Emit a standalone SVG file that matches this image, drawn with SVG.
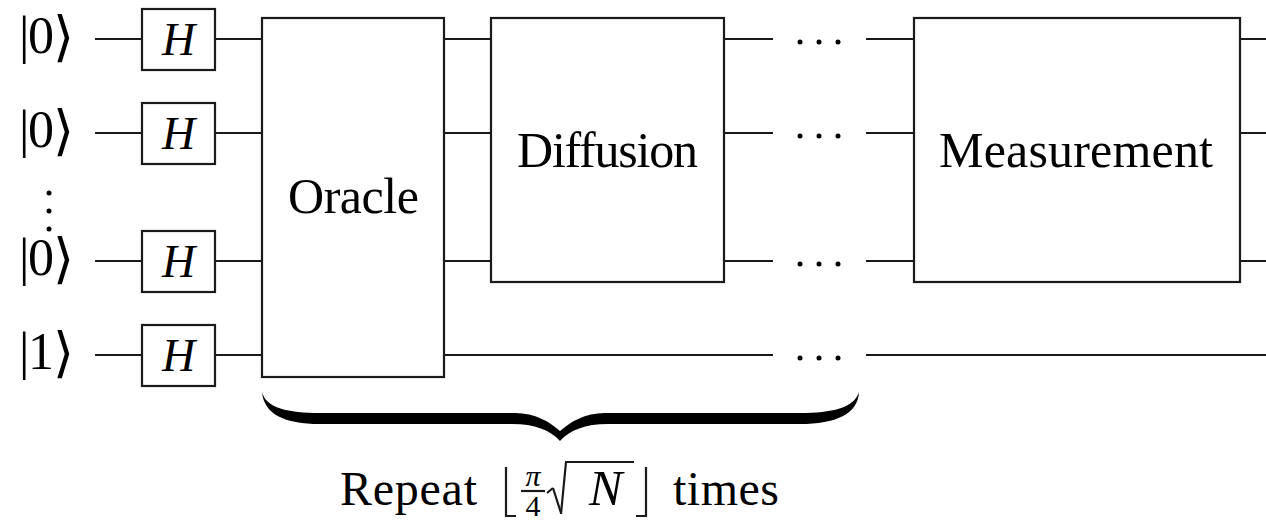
<svg xmlns="http://www.w3.org/2000/svg" width="1266" height="523" viewBox="0 0 1266 523">
<style>
.w{stroke:#1a1a1a;stroke-width:2.2;fill:none}
.b{stroke:#1a1a1a;stroke-width:2.2;fill:#fff}
.t{font-family:"Liberation Serif","DejaVu Serif",serif;fill:#000}
.i{font-style:italic}
.k{font-family:"Liberation Serif","DejaVu Serif",serif;fill:#000;font-size:52px}
.a{font-family:"DejaVu Sans","Liberation Serif",sans-serif;font-size:54px}
.d{fill:#000}
</style>
<rect width="1266" height="523" fill="#fff"/>
<g id="connectors">
<path class="w" d="M95 39H142M95 133H142M95 261H142M95 355H142"/>
<path class="w" d="M215 39H262M215 133H262M215 261H262M215 355H262"/>
<path class="w" d="M444 39H491M444 133H491M444 261H491M444 355H773"/>
<path class="w" d="M724 39H773M724 133H773M724 261H773"/>
<path class="w" d="M866 39H914M866 133H914M866 261H914M866 355H1266"/>
<path class="w" d="M1240 39H1266M1240 133H1266M1240 261H1266"/>
</g>
<g id="dots">
<circle class="d" cx="49" cy="193" r="2.5"/><circle class="d" cx="49" cy="211" r="2.5"/><circle class="d" cx="49" cy="229" r="2.5"/>
<circle class="d" cx="800" cy="42" r="2.5"/><circle class="d" cx="819" cy="42" r="2.5"/><circle class="d" cx="838" cy="42" r="2.5"/>
<circle class="d" cx="800" cy="136" r="2.5"/><circle class="d" cx="819" cy="136" r="2.5"/><circle class="d" cx="838" cy="136" r="2.5"/>
<circle class="d" cx="800" cy="264" r="2.5"/><circle class="d" cx="819" cy="264" r="2.5"/><circle class="d" cx="838" cy="264" r="2.5"/>
<circle class="d" cx="800" cy="358" r="2.5"/><circle class="d" cx="819" cy="358" r="2.5"/><circle class="d" cx="838" cy="358" r="2.5"/>
</g>
<g id="ket0a"><text class="k" x="19" y="53">|<tspan x="28">0</tspan><tspan class="a" x="53" y="55">⟩</tspan></text></g>
<g id="ket0b"><text class="k" x="19" y="147">|<tspan x="28">0</tspan><tspan class="a" x="53" y="149">⟩</tspan></text></g>
<g id="ket0c"><text class="k" x="19" y="275">|<tspan x="28">0</tspan><tspan class="a" x="53" y="277">⟩</tspan></text></g>
<g id="ket1"><text class="k" x="19" y="369">|<tspan x="28">1</tspan><tspan class="a" x="53" y="371">⟩</tspan></text></g>
<g id="h1"><rect class="b" x="142" y="9" width="73" height="61"/><text class="t i" x="178.5" y="55" font-size="46" text-anchor="middle">H</text></g>
<g id="h2"><rect class="b" x="142" y="103" width="73" height="61"/><text class="t i" x="178.5" y="149" font-size="46" text-anchor="middle">H</text></g>
<g id="h3"><rect class="b" x="142" y="231" width="73" height="61"/><text class="t i" x="178.5" y="277" font-size="46" text-anchor="middle">H</text></g>
<g id="h4"><rect class="b" x="142" y="325" width="73" height="61"/><text class="t i" x="178.5" y="371" font-size="46" text-anchor="middle">H</text></g>
<g id="oracle"><rect class="b" x="262" y="18" width="182" height="359"/><text class="t" x="353.5" y="213" font-size="50" text-anchor="middle" textLength="131">Oracle</text></g>
<g id="diffusion"><rect class="b" x="491" y="18" width="233" height="264"/><text class="t" x="607.5" y="167" font-size="50" text-anchor="middle" textLength="181">Diffusion</text></g>
<g id="measurement"><rect class="b" x="914" y="18" width="326" height="264"/><text class="t" x="1076" y="167" font-size="50" text-anchor="middle" textLength="274">Measurement</text></g>
<g id="brace">
<path fill="#000" d="M262 392C266 408 288 413 320 413L515 413C535 413 550 422 560 431C570 422 585 413 605 413L800 413C832 413 854 408 859 392C858 414 836 424 800 424L608 424C585 424 570 430 560 441C550 430 535 424 512 424L320 424C284 424 264 414 262 392Z"/>
</g>
<g id="label">
<text class="t" x="340" y="505" font-size="48" textLength="137">Repeat</text>
<path class="w" stroke-width="2" d="M506 467V516H516"/>
<text class="t i" x="533" y="486" font-size="30" text-anchor="middle">π</text>
<path class="w" stroke-width="1.6" d="M521 491H545"/>
<text class="t" x="533" y="516" font-size="30" text-anchor="middle">4</text>
<path class="w" stroke-width="1.6" d="M547 493L553 488"/>
<path class="w" stroke-width="3.6" d="M553 488L561 513"/>
<path class="w" stroke-width="1.6" d="M561 514L566 462H634"/>
<text class="t i" x="589" y="505" font-size="50" textLength="43">N</text>
<path class="w" stroke-width="2" d="M646 467V516H636"/>
<text class="t" x="673" y="505" font-size="48" textLength="106">times</text>
</g>
</svg>
